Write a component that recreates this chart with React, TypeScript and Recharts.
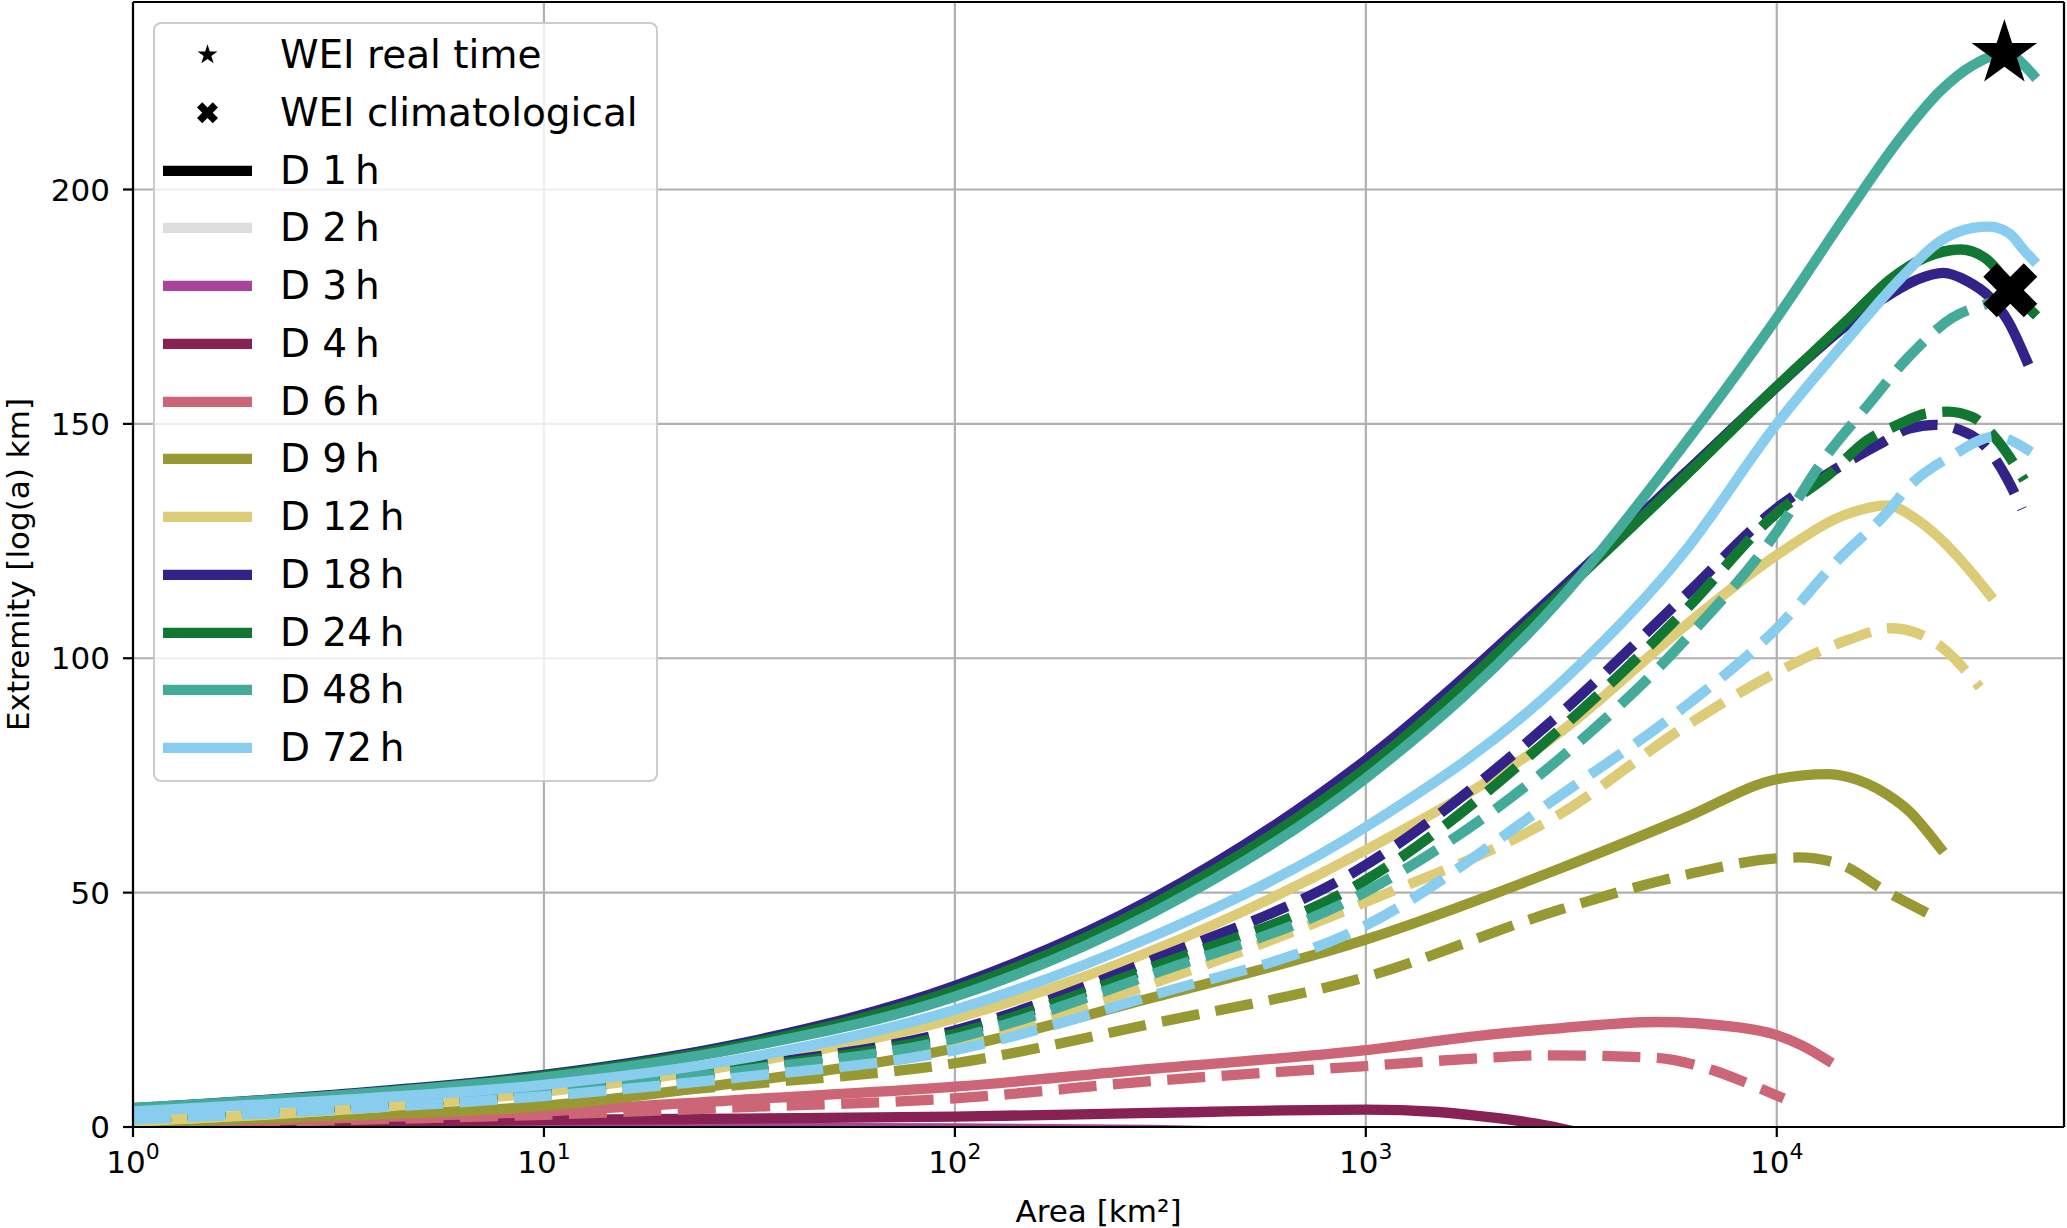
import React from 'react'
import {
  ComposedChart,
  Line,
  Scatter,
  XAxis,
  YAxis,
  CartesianGrid,
  ReferenceLine,
  Legend,
} from 'recharts'

type Pt = [number, number]

// durations and their colours (Tol muted)
const durations = ['1', '2', '3', '4', '6', '9', '12', '18', '24', '48', '72']
const colors = ['#000000', '#dddddd', '#aa4499', '#882255', '#cc6677', '#999933', '#ddcc77', '#332288', '#117733', '#44aa99', '#88ccee']

const majorTicks = [1, 10, 100, 1000, 10000]
const minorTicks = [
  2, 3, 4, 5, 6, 7, 8, 9,
  20, 30, 40, 50, 60, 70, 80, 90,
  200, 300, 400, 500, 600, 700, 800, 900,
  2000, 3000, 4000, 5000, 6000, 7000, 8000, 9000,
  20000, 30000, 40000,
]
const yTicks = [0, 50, 100, 150, 200]

// solid lines: real time, [area km², extremity]
const real3: Pt[] = [[1, -0.4], [3, -0.3], [10, -0.2], [30, -0.2], [100, -0.3], [300, -0.6], [600, -1.2]]
const real4: Pt[] = [[1, 0.5], [3, 1.0], [10, 1.5], [30, 1.8], [100, 2.2], [300, 3.0], [1000, 3.7], [1500, 3.2], [1900, 2.3], [2400, 1.2], [2800, 0.2], [3300, -1.2]]
const real6: Pt[] = [[1, 0.4], [3, 1.8], [10, 3.3], [30, 5.8], [100, 8.6], [300, 12.4], [1000, 16.4], [2000, 19.7], [3000, 21.1], [5100, 22.4], [8000, 21.3], [10000, 19.6], [11500, 17.4], [13300, 14.2]]
const real9: Pt[] = [[1, 0.8], [3, 2.3], [10, 4.5], [30, 9.5], [100, 16.8], [300, 27.5], [1000, 40], [3000, 55.3], [6000, 66], [10000, 74.2], [13300, 75.3], [15000, 74.6], [18500, 71], [21200, 67], [23000, 63.5], [25000, 59.5]]
const real12: Pt[] = [[1, 1.2], [3, 3.5], [10, 7.5], [30, 13.4], [100, 23.2], [300, 37.5], [1000, 59.1], [3000, 84.5], [6000, 107], [10000, 122], [15000, 130.9], [18500, 132.6], [22000, 129.5], [25000, 125.5], [29000, 119.5], [33000, 113.5]]
const real18: Pt[] = [[1, 4.0], [3, 6.8], [10, 11.1], [30, 17.8], [100, 30.1], [300, 48.5], [1000, 78.3], [3000, 115], [6000, 139.6], [10000, 157.9], [12000, 164.3], [15000, 171.5], [19000, 177.8], [22000, 180.8], [25400, 182.2], [29000, 180.5], [33000, 177], [36500, 172], [40500, 163.6]]
const real24: Pt[] = [[1, 3.9], [3, 6.6], [10, 10.9], [30, 17.4], [100, 29.2], [300, 47.3], [1000, 76.5], [3000, 114], [6000, 139], [10000, 158], [12000, 164.5], [15000, 172.5], [19000, 181], [23000, 185.5], [28000, 187.2], [32000, 185.5], [35000, 182], [37000, 179], [42000, 173.8]]
const real48: Pt[] = [[1, 4.1], [3, 6.6], [10, 10.6], [30, 16.8], [100, 27.8], [300, 45.5], [1000, 74.4], [3000, 113], [6000, 146], [10000, 172.6], [15000, 195.5], [20000, 211], [25000, 221], [30000, 226.5], [34000, 228.5], [37000, 228.6], [40000, 226.5], [42000, 224.5]]
const real72: Pt[] = [[1, 3.3], [3, 5.6], [10, 9.0], [30, 14.5], [100, 25.0], [300, 40.5], [1000, 64], [3000, 95], [6000, 123], [10000, 150], [15000, 168.5], [20000, 181], [25000, 189], [30000, 191.8], [33000, 192.1], [37000, 190.5], [40000, 187], [42000, 185]]

// dashed lines: climatological
const clim6: Pt[] = [[1, 0.3], [3, 1.4], [10, 2.6], [30, 4.2], [100, 6.1], [300, 9.8], [1000, 13], [2000, 14.8], [2700, 15.3], [5000, 14.8], [7000, 12.1], [8500, 9.3], [10400, 6.1]]
const clim9: Pt[] = [[1, 0.8], [3, 2.8], [10, 5.5], [30, 9], [100, 13.6], [300, 22], [1000, 32], [3000, 46.5], [6000, 53.8], [10000, 57.3], [11300, 57.5], [14100, 56.2], [18500, 50.2], [24000, 45]]
const clim12: Pt[] = [[1, 1.2], [3, 3.5], [10, 7.0], [30, 11], [100, 17.5], [300, 30.5], [1000, 48], [3000, 67], [6000, 85.5], [10000, 97], [15000, 104], [19000, 106.4], [25000, 102.6], [31200, 93.8]]
const clim18: Pt[] = [[1, 2.0], [3, 4.3], [10, 7.8], [30, 12.8], [100, 20.6], [300, 35.5], [1000, 55.9], [3000, 88.5], [6000, 113.5], [10000, 132], [13400, 139.5], [17800, 145.7], [21000, 149], [24300, 149.8], [27300, 149], [33000, 144.1], [36300, 138.4], [39500, 131.8]]
const clim24: Pt[] = [[1, 1.9], [3, 4.2], [10, 7.6], [30, 12.4], [100, 19.9], [300, 34], [1000, 52.7], [3000, 85.2], [6000, 110.3], [10000, 131], [13400, 139.2], [16600, 146.5], [19600, 149.7], [23100, 152.2], [26000, 152.6], [30000, 151.4], [34400, 146.5], [40000, 138]]
const clim48: Pt[] = [[1, 1.8], [3, 4.0], [10, 7.3], [30, 12], [100, 18.9], [300, 32.5], [1000, 50.2], [3000, 79], [6000, 104], [10000, 127], [13000, 142.4], [16600, 153.8], [21000, 164.4], [26700, 172.6], [33000, 175.8], [37000, 177.3], [42000, 176.6]]
const clim72: Pt[] = [[1, 1.6], [3, 3.6], [10, 6.6], [30, 10.6], [100, 16.4], [300, 28], [1000, 43], [3000, 71], [6000, 89.8], [10000, 106.4], [14100, 121], [18500, 131], [21000, 136.7], [26700, 143.2], [34000, 147.3], [41600, 144]]

// WEI markers
const weiRealTime = [{ a: 35800, v: 229 }]
const weiClimatological = [{ a: 37000, v: 178.5 }]

const seriesList: { dur: string; pts: Pt[]; dashed: boolean }[] = [
  { dur: '3', pts: real3, dashed: false },
  { dur: '4', pts: real4, dashed: false },
  { dur: '6', pts: real6, dashed: false },
  { dur: '6', pts: clim6, dashed: true },
  { dur: '9', pts: real9, dashed: false },
  { dur: '9', pts: clim9, dashed: true },
  { dur: '12', pts: real12, dashed: false },
  { dur: '12', pts: clim12, dashed: true },
  { dur: '18', pts: real18, dashed: false },
  { dur: '18', pts: clim18, dashed: true },
  { dur: '24', pts: real24, dashed: false },
  { dur: '24', pts: clim24, dashed: true },
  { dur: '48', pts: real48, dashed: false },
  { dur: '48', pts: clim48, dashed: true },
  { dur: '72', pts: real72, dashed: false },
  { dur: '72', pts: clim72, dashed: true },
]

const toRows = (pts: Pt[]) => pts.map(([a, v]) => ({ a, v }))
const colorOf = (dur: string) => colors[durations.indexOf(dur)]

const FONT = 'DejaVu Sans'
const LW = 10.3

function starPoints(cx: number, cy: number, r: number) {
  const pts: string[] = []
  for (let i = 0; i < 10; i++) {
    const rad = i % 2 === 0 ? r : r * 0.381966
    const ang = (-90 + i * 36) * (Math.PI / 180)
    pts.push(`${cx + rad * Math.cos(ang)},${cy + rad * Math.sin(ang)}`)
  }
  return pts.join(' ')
}

const xVerts = [[-1, -2], [0, -1], [1, -2], [2, -1], [1, 0], [2, 1], [1, 2], [0, 1], [-1, 2], [-2, 1], [-1, 0], [-2, -1]]
function xPath(cx: number, cy: number, size: number) {
  const s = size / 4
  return xVerts.map(([i, j], k) => `${k === 0 ? 'M' : 'L'}${cx + i * s},${cy + j * s}`).join(' ') + ' Z'
}

function LogTick(props: any) {
  const { x, y, payload } = props
  const exp = Math.round(Math.log10(payload.value))
  return (
    <text x={x} y={y} dy={22.6} textAnchor='middle' fontSize={31} fill='#000'>
      10<tspan dy={-13.6} fontSize={22}>{exp}</tspan>
    </text>
  )
}

function XLabel(props: any) {
  const vb = props.viewBox || { x: 133, y: 1128, width: 1931, height: 100 }
  return (
    <text x={vb.x + vb.width / 2} y={vb.y + vb.height - 6.3} textAnchor='middle' fontSize={31} fill='#000'>
      Area [km²]
    </text>
  )
}

function YLabel(props: any) {
  const vb = props.viewBox || { x: 0, y: 2, width: 133, height: 1125 }
  const x = vb.x + 29
  const y = vb.y + vb.height / 2
  return (
    <text x={x} y={y} transform={`rotate(-90 ${x} ${y})`} textAnchor='middle' fontSize={31} fill='#000'>
      Extremity [log(a) km]
    </text>
  )
}

function WeiLegend() {
  const rows = [
    { label: 'WEI real time', kind: 'star', color: '#000' },
    { label: 'WEI climatological', kind: 'x', color: '#000' },
    ...durations.map((d, i) => ({ label: `D ${d}\u2009h`, kind: 'line', color: colors[i] })),
  ]
  const rowH = 57.73
  return (
    <div
      style={{
        width: 505,
        height: 760,
        boxSizing: 'border-box',
        border: '2.5px solid #cccccc',
        borderRadius: 8,
        background: 'rgba(255,255,255,0.8)',
        position: 'relative',
        fontFamily: FONT,
        fontSize: 39,
        color: '#000',
      }}
    >
      {rows.map((r, i) => (
        <div key={i} style={{ position: 'absolute', left: 0, top: 2.2 + i * rowH, height: rowH, width: '100%' }}>
          <svg width={90} height={rowH} style={{ position: 'absolute', left: 8.3, top: 0 }}>
            {r.kind === 'line' && (
              <line x1={0} x2={89} y1={rowH / 2} y2={rowH / 2} stroke={r.color} strokeWidth={LW} />
            )}
            {r.kind === 'star' && <polygon points={starPoints(44.5, rowH / 2, 10.5)} fill='#000' />}
            {r.kind === 'x' && <path d={xPath(44.5, rowH / 2, 21)} fill='#000' />}
          </svg>
          <span style={{ position: 'absolute', left: 124.9, top: 0, lineHeight: `${rowH}px`, whiteSpace: 'nowrap' }}>
            {r.label}
          </span>
        </div>
      ))}
    </div>
  )
}

export default function App() {
  return (
    <div style={{ width: 2067, height: 1228, fontFamily: FONT, background: '#fff' }}>
      <style>{'body{margin:0;background:#fff}'}</style>
      <ComposedChart width={2067} height={1228} margin={{ top: 2, right: 3, left: 0, bottom: 0 }}>
        {/* minor ticks first so it sits on the plot edge */}
        <XAxis
          dataKey='a'
          type='number'
          scale='log'
          domain={[1, 50000]}
          allowDataOverflow
          ticks={minorTicks}
          interval={0}
          height={1}
          tick={false}
          tickSize={5.5}
          tickLine={{ stroke: '#000', strokeWidth: 1.7 }}
          axisLine={false}
        />
        <XAxis
          xAxisId='main'
          dataKey='a'
          type='number'
          scale='log'
          domain={[1, 50000]}
          allowDataOverflow
          ticks={majorTicks}
          interval={0}
          height={100}
          tickSize={9}
          tickMargin={13}
          tick={<LogTick />}
          tickLine={{ stroke: '#000', strokeWidth: 2.2 }}
          axisLine={false}
          label={<XLabel />}
        />
        <YAxis
          dataKey='v'
          type='number'
          domain={[0, 240]}
          allowDataOverflow
          ticks={yTicks}
          interval={0}
          width={133}
          tickSize={10}
          tickMargin={13}
          tick={{ fill: '#000', fontSize: 31 }}
          tickLine={{ stroke: '#000', strokeWidth: 2.2 }}
          axisLine={{ stroke: '#000', strokeWidth: 2.2 }}
          label={<YLabel />}
        />
        <CartesianGrid xAxisId='main' stroke='#b0b0b0' strokeWidth={2.2} />
        {seriesList.map((s, i) => (
          <Line
            key={i}
            data={toRows(s.pts)}
            dataKey='v'
            type='monotone'
            stroke={colorOf(s.dur)}
            strokeWidth={LW}
            strokeDasharray={s.dashed ? '38 16.5' : undefined}
            strokeLinecap={s.dashed ? 'butt' : 'square'}
            dot={false}
            activeDot={false}
            isAnimationActive={false}
          />
        ))}
        <Scatter
          data={weiRealTime}
          dataKey='v'
          isAnimationActive={false}
          shape={(p: any) => <polygon points={starPoints(p.cx, p.cy, 34.5)} fill='#000' />}
        />
        <Scatter
          data={weiClimatological}
          dataKey='v'
          isAnimationActive={false}
          shape={(p: any) => <path d={xPath(p.cx, p.cy, 54)} fill='#000' />}
        />
        <ReferenceLine y={0} stroke='#000' strokeWidth={2.2} />
        <ReferenceLine y={240} stroke='#000' strokeWidth={2.2} />
        <ReferenceLine x={50000} stroke='#000' strokeWidth={2.2} />
        <Legend
          layout='vertical'
          align='center'
          verticalAlign='middle'
          wrapperStyle={{ left: 153, top: 22, width: 505, height: 760 }}
          content={() => <WeiLegend />}
        />
      </ComposedChart>
    </div>
  )
}
